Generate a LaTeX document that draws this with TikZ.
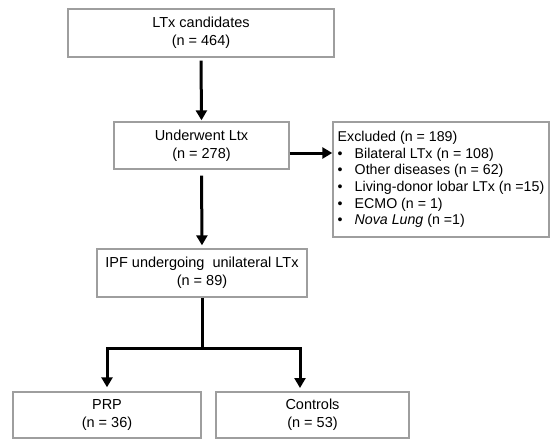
\documentclass[tikz,border=0pt]{standalone}
\usepackage{fontspec}
\setmainfont{Liberation Sans}
\usetikzlibrary{arrows.meta}
\definecolor{boxgray}{RGB}{158,158,158}
\begin{document}
\begin{tikzpicture}[x=1pt,y=-1pt,
  box/.style={draw=boxgray,line width=1.4pt,align=center,inner sep=0pt,
    font=\fontsize{14.5}{18}\selectfont},
  arr/.style={line width=3pt,-{Triangle[width=11pt,length=10pt]}},
  ln/.style={line width=3pt}]
\useasboundingbox (0,0) rectangle (550,439);
\node[box,minimum width=266pt,minimum height=48pt] (b1) at (201,33) {LTx candidates\\(n = 464)};
\node[box,minimum width=175pt,minimum height=47pt] (b2) at (201.5,145.5) {Underwent Ltx\\(n = 278)};
\node[box,minimum width=210pt,minimum height=48pt] (b3) at (202,273) {IPF undergoing\ \ unilateral LTx\\(n = 89)};
\node[box,minimum width=188pt,minimum height=46pt] (prp) at (107,415) {PRP\\(n = 36)};
\node[box,minimum width=193pt,minimum height=46pt] (ctl) at (312.5,415) {Controls\\(n = 53)};
\node[box,align=left,minimum width=216pt,minimum height=115pt,
  font=\fontsize{14.2}{16.6}\selectfont] (ex) at (441,179.5)
  {Excluded (n = 189)\\
   \makebox[17pt][l]{\textbullet}Bilateral LTx (n = 108)\\
   \makebox[17pt][l]{\textbullet}Other diseases (n = 62)\\
   \makebox[17pt][l]{\textbullet}Living-donor lobar LTx (n =15)\\
   \makebox[17pt][l]{\textbullet}ECMO (n = 1)\\
   \makebox[17pt][l]{\textbullet}\textit{Nova Lung} (n =1)};
\coordinate (ry) at (0,153);
\coordinate (split) at (202,348);
\coordinate (ct) at (300,392);
\draw[arr,shorten <=3pt,shorten >=1pt] (b1.south) -- (b2.north);
\draw[arr,shorten <=6pt,shorten >=3pt] (b2.south) -- (b3.north);
\draw[arr] (b2.east |- ry) -- (ex.west |- ry);
\draw[ln] (b3.south) -- (split);
\draw[arr,shorten >=4pt] (split) -| (prp.north);
\draw[arr,shorten >=4pt] (split) -| (ct);
\end{tikzpicture}
\end{document}
